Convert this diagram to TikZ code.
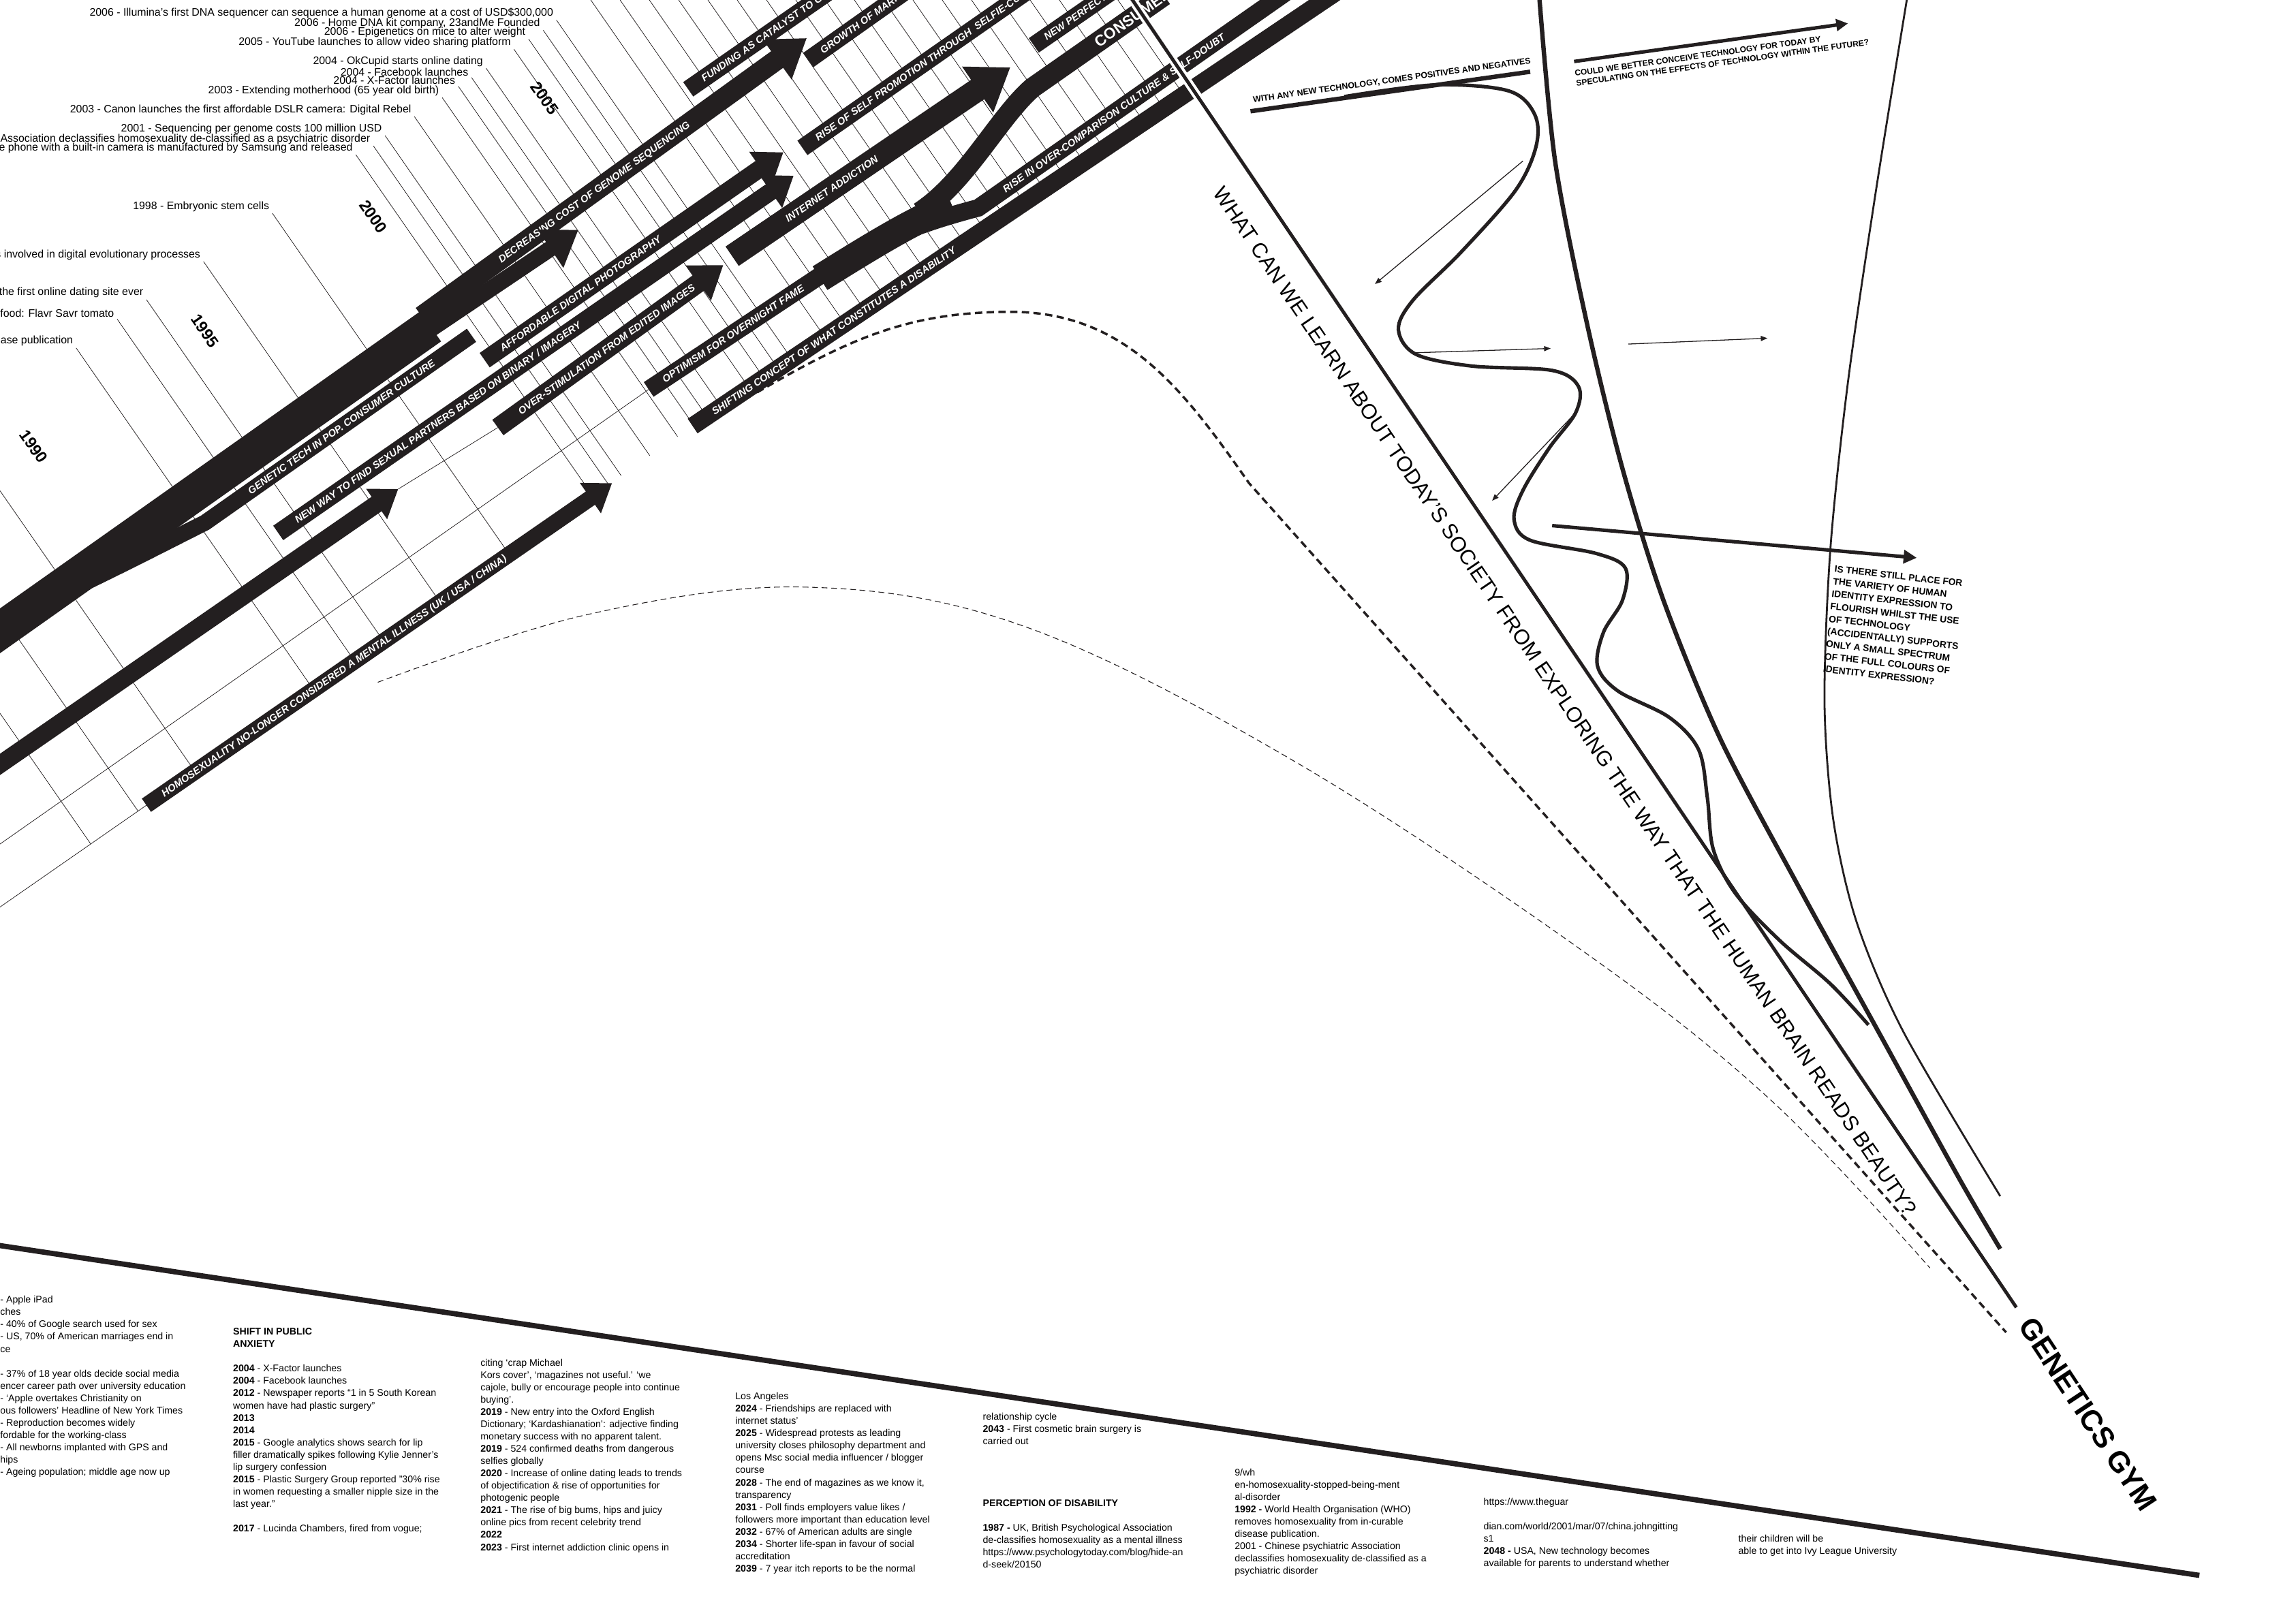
\documentclass[tikz,border=0pt]{standalone}
\usepackage{fontspec}
\setmainfont{Liberation Sans}
\usetikzlibrary{arrows.meta, calc}
\definecolor{ink}{HTML}{231F20}
\newcommand\bandfont{\fontsize{6.9}{7.5}\selectfont\bfseries\itshape}

\begin{document}
\begin{tikzpicture}[x=1pt, y=-1pt, line cap=butt, line join=miter]

	% ================= 0. styles =================
	\tikzset{
		band/.style={draw=ink, line width=#1},
		head/.style n args={2}{-{Triangle[width=#1, length=#2]}},
		lbl/.style={sloped, anchor=west, text=white, inner sep=0pt, font=\bandfont, text height=4.9pt, text depth=0pt},
		lead/.style={draw=ink, line width=0.35pt},
		tl/.style={anchor=east, inner sep=0pt, font=\fontsize{7.4}{8}\selectfont},
		yr/.style={rotate=-55, inner sep=0pt, font=\fontsize{11}{11}\selectfont\bfseries},
		note/.style={anchor=north west, inner sep=0pt, align=left, font=\fontsize{6.6}{8.4}\selectfont},
		query/.style={inner sep=0pt, align=left, font=\fontsize{5.8}{6.8}\selectfont\bfseries},
		thinarrow/.style={draw=ink, line width=0.6, -{Triangle[width=3.5, length=4.5]}},
	}
	\useasboundingbox (0,0) rectangle (1568,1109);

	% ================= 1. timeline labels and leader lines =================
	\coordinate (bd1) at (100,550);
	\coordinate (bd2) at (473,291);

	\node[tl] (e01) at (378,9)   {2006 - Illumina’s first DNA sequencer can sequence a human genome at a cost of USD\$300,000};
	\node[tl] (e02) at (369,16)  {2006 - Home DNA kit company, 23andMe Founded};
	\node[tl] (e03) at (359,22)  {2006 - Epigenetics on mice to alter weight};
	\node[tl] (e04) at (349,29)  {2005 - YouTube launches to allow video sharing platform};
	\node[tl] (e05) at (330,42)  {2004 - OkCupid starts online dating};
	\node[tl] (e06) at (320,49)  {2004 - Facebook launches};
	\node[tl] (e07) at (311,55)  {2004 - X-Factor launches};
	\node[tl] (e08) at (300,62)  {2003 - Extending motherhood (65 year old birth)};
	\node[tl] (e09) at (281,75)  {2003 - Canon launches the first affordable DSLR camera: Digital Rebel};
	\node[tl] (e10) at (261,88)  {2001 - Sequencing per genome costs 100 million USD};
	\node[tl] (e11) at (253,95)  {Association declassifies homosexuality de-classified as a psychiatric disorder};
	\node[tl] (e12) at (241,101) {le phone with a built-in camera is manufactured by Samsung and released};
	\node[tl] (e13) at (184,141) {1998 - Embryonic stem cells};
	\node[tl] (e14) at (137,174) {s involved in digital evolutionary processes};
	\node[tl] (e15) at (98,200)  {the first online dating site ever};
	\node[tl] (e16) at (78,214)  {food: Flavr Savr tomato};
	\node[tl] (e17) at (50,233)  {ase publication};

	\foreach \e in {e01,e02,e03,e04,e05,e06,e07,e08,e09,e10,e11,e12,e13,e14,e15,e16,e17}
		\draw[lead] ($(\e.south east)+(2,1)$) -- ($(bd1)!($(\e.south east)+(2,1)$)!(bd2)$);
	\foreach \x in {400,420,...,760}
		\draw[lead] (\x,-5) -- ($(bd1)!(\x,-5)!(bd2)$);
	\foreach \y in {328,411,480}
		\draw[lead] (-5,\y) -- ($(bd1)!(-5,\y)!(bd2)$);

	\node[yr] (y2005) at (372,67)  {2005};
	\node[yr] (y2000) at (255,148) {2000};
	\node[yr] (y1995) at (140,226) {1995};
	\node[yr] (y1990) at (23,305)  {1990};

	% thin guide lines along the bands
	\draw[lead] (-5,580) -- (443,266);
	\draw[lead] (100,550) -- (-5,623);
	\draw[lead] (272,334) -- (340,292);

	% ================= 2. bands =================
	\draw[band=25] (-20,445) -- (294,223);
	\draw[band=11] (60,397) .. controls (95,380) and (118,368) .. (140,357)
		-- node[lbl, pos=0.14] {GENETIC TECH IN POP. CONSUMER CULTURE} (322,229);
	\draw[band=14, head={32}{25}] (288,216) -- node[lbl, pos=0.18] {DECREASING COST OF GENOME SEQUENCING} (551,26);
	\draw[band=11, head={30}{23}] (285,231) -- (395,157);
	\draw[band=12, head={24}{18}] (-10,529) -- (272,334);
	\draw[band=11, head={24}{18}] (100,550) -- node[lbl, pos=0.02] {HOMOSEXUALITY NO-LONGER CONSIDERED A MENTAL ILLNESS (UK / USA / CHINA)} (418,330);
	\draw[band=12, head={26}{19}] (190,364) -- node[lbl, pos=0.02] {NEW WAY TO FIND SEXUAL PARTNERS BASED ON BINARY / IMAGERY} (542,120);
	\draw[band=12, head={26}{19}] (331,246) -- node[lbl, pos=0.03] {AFFORDABLE DIGITAL PHOTOGRAPHY} (535,104);
	\draw[band=13, head={28}{21}] (340,292) -- node[lbl, pos=0.06] {OVER-STIMULATION FROM EDITED IMAGES} (494,181);
	\draw[band=16, head={36}{27}] (500,175) -- node[lbl, pos=0.16] {INTERNET ADDICTION} (690,46);
	\draw[band=12] (443,266) -- node[lbl, pos=0.04] {OPTIMISM FOR OVERNIGHT FAME} (565,185)
		.. controls (600,163) and (630,152) .. (668,142)
		-- node[lbl, pos=0.06] {RISE IN OVER-COMPARISON CULTURE \& SELF-DOUBT} (878,-5);
	\draw[band=19] (560,190) .. controls (600,165) and (625,150) .. (650,140);
	\draw[band=14] (628,145) .. controls (660,124) and (682,80) .. (705,60)
		-- node[lbl, pos=0.42, font=\fontsize{10.5}{10.5}\selectfont\bfseries, text height=7.5pt] {CONSUMER} (795,-3);
	\draw[band=12] (473,291) -- node[lbl, pos=0.02] {SHIFTING CONCEPT OF WHAT CONSTITUTES A DISABILITY} (915,-7);
	\draw[band=12] (470,61) -- node[lbl, pos=0.05] {FUNDING AS CATALYST TO GE} (565,-5);
	\draw[band=12] (552,41) -- node[lbl, pos=0.06] {GROWTH OF MARK} (617,-5);
	\draw[band=12] (548,101) -- node[lbl, pos=0.03] {RISE OF SELF PROMOTION THROUGH\ \ SELFIE-CU} (700,-5);
	\draw[band=12] (706,31) -- node[lbl, pos=0.05] {NEW PERFECT BO} (758,-5);

	% ================= 3. the question line =================
	\draw[white, line width=6] (770,-5) -- (860,128);
	\draw[ink, line width=2.3] (770,-5) -- (1377,893);
	\node[rotate=-55.9, inner sep=0pt, font=\fontsize{14.4}{14.4}\selectfont] (learn) at (1069,479)
		{WHAT CAN WE LEARN ABOUT TODAY’S SOCIETY FROM EXPLORING THE WAY THAT THE HUMAN BRAIN READS BEAUTY?};
	\node[rotate=-56.5, inner sep=0pt, font=\fontsize{20}{20}\selectfont\bfseries] (gym) at (1426,966) {GENETICS GYM};

	% dashed traces
	\draw[ink, line width=1.6, dash pattern=on 5pt off 3pt] (517,268) to[out=30, in=180] (690,213)
		to[out=0, in=125] (853,330) -- (1370,910);
	\draw[ink, line width=0.5, dash pattern=on 4pt off 2.5pt] plot[smooth, tension=0.6] coordinates
		{(258,466) (400,420) (550,401) (700,428) (884,520) (1083,651) (1210,752) (1318,866)};

	% ================= 4. funnel and wave =================
	\draw[ink, line width=3] plot[smooth] coordinates
		{(1051,-5) (1062,110) (1084,222) (1108,320) (1136,410) (1175,505) (1228,605) (1283,705) (1338,805) (1366,853)};
	\draw[ink, line width=1.3] plot[smooth] coordinates
		{(1303,-5) (1281,131) (1262,261) (1250,375) (1246,480) (1252,560) (1268,630) (1300,705) (1366,817)};
	\draw[ink, line width=2.4] plot[smooth, tension=0.55] coordinates
		{(918,66) (980,58) (1030,62) (1048,78) (1049,100) (1035,130) (998,172) (965,205) (955,225) (967,242)
		 (1005,250) (1060,253) (1078,264) (1076,282) (1058,306) (1040,335) (1034,355) (1045,369) (1090,378)
		 (1110,388) (1108,410) (1095,432) (1091,455) (1105,472) (1140,490) (1160,512) (1166,545) (1170,580)
		 (1185,610) (1215,642) (1250,672) (1276,700)};

	\draw[thinarrow] (1040,110) -- (939,194);
	\draw[thinarrow] (964,241) -- (1059,238);
	\draw[thinarrow] (1112,235) -- (1207,231);
	\draw[thinarrow] (1075,283) -- (1019,342);
	\draw[ink, line width=2.4, -{Triangle[width=9, length=9]}] (1060,359) -- (1309,381);
	\draw[ink, line width=2.4, -{Triangle[width=8, length=8]}] (1075,42) -- (1262,16);

	\draw[ink, line width=3] (854,76) -- (1045,49);
	\node[query, rotate=8, anchor=south west] (withany) at (856,71) {WITH ANY NEW TECHNOLOGY, COMES POSITIVES AND NEGATIVES};
	\node[query, rotate=8, anchor=north west, font=\fontsize{5.6}{6.8}\selectfont\bfseries] (could) at (1075,48)
		{COULD WE BETTER CONCEIVE TECHNOLOGY FOR TODAY BY\\SPECULATING ON THE EFFECTS OF TECHNOLOGY WITHIN THE FUTURE?};
	\node[query, rotate=-6.5, anchor=north west, font=\fontsize{6.4}{8.6}\selectfont\bfseries] (variety) at (1253,386)
		{IS THERE STILL PLACE FOR\\THE VARIETY OF HUMAN\\IDENTITY EXPRESSION TO\\FLOURISH WHILST THE USE\\OF TECHNOLOGY\\(ACCIDENTALLY) SUPPORTS\\ONLY A SMALL SPECTRUM\\OF THE FULL COLOURS OF\\IDENTITY EXPRESSION?};

	% ================= 5. bottom edge and notes =================
	\draw[ink, line width=3.6] (-5,850) -- (1502,1076);

	\node[note] (col1) at (0,885) {- Apple iPad\\ches\\- 40\% of Google search used for sex\\- US, 70\% of American marriages end in\\ce\\\mbox{}\\- 37\% of 18 year olds decide social media\\encer career path over university education\\- ‘Apple overtakes Christianity on\\ous followers’ Headline of New York Times\\- Reproduction becomes widely\\fordable for the working-class\\- All newborns implanted with GPS and\\hips\\- Ageing population; middle age now up};
	\node[note] (col2) at (159,907) {\textbf{SHIFT IN PUBLIC}\\\textbf{ANXIETY}\\\mbox{}\\\textbf{2004} - X-Factor launches\\\textbf{2004} - Facebook launches\\\textbf{2012} - Newspaper reports “1 in 5 South Korean\\women have had plastic surgery”\\\textbf{2013}\\\textbf{2014}\\\textbf{2015} - Google analytics shows search for lip\\filler dramatically spikes following Kylie Jenner’s\\lip surgery confession\\\textbf{2015} - Plastic Surgery Group reported "30\% rise\\in women requesting a smaller nipple size in the\\last year."\\\mbox{}\\\textbf{2017} - Lucinda Chambers, fired from vogue;};
	\node[note] (col3) at (328,928) {citing ‘crap Michael\\Kors cover’, ‘magazines not useful.’ ‘we\\cajole, bully or encourage people into continue\\buying’.\\\textbf{2019} - New entry into the Oxford English\\Dictionary; ‘Kardashianation’: adjective finding\\monetary success with no apparent talent.\\\textbf{2019} - 524 confirmed deaths from dangerous\\selfies globally\\\textbf{2020} - Increase of online dating leads to trends\\of objectification \& rise of opportunities for\\photogenic people\\\textbf{2021} - The rise of big bums, hips and juicy\\online pics from recent celebrity trend\\\textbf{2022}\\\textbf{2023} - First internet addiction clinic opens in};
	\node[note] (col4) at (502,951) {Los Angeles\\\textbf{2024} - Friendships are replaced with\\internet status’\\\textbf{2025} - Widespread protests as leading\\university closes philosophy department and\\opens Msc social media influencer / blogger\\course\\\textbf{2028} - The end of magazines as we know it,\\transparency\\\textbf{2031} - Poll finds employers value likes /\\followers more important than education level\\\textbf{2032} - 67\% of American adults are single\\\textbf{2034} - Shorter life-span in favour of social\\accreditation\\\textbf{2039} - 7 year itch reports to be the normal};
	\node[note] (col5) at (671,965) {relationship cycle\\\textbf{2043} - First cosmetic brain surgery is\\carried out\\\mbox{}\\\mbox{}\\\mbox{}\\\mbox{}\\\textbf{PERCEPTION OF DISABILITY}\\\mbox{}\\\textbf{1987 -} UK, British Psychological Association\\de-classifies homosexuality as a mental illness\\https://www.psychologytoday.com/blog/hide-an\\d-seek/20150};
	\node[note] (col6) at (843,1003) {9/wh\\en-homosexuality-stopped-being-ment\\al-disorder\\\textbf{1992 -} World Health Organisation (WHO)\\removes homosexuality from in-curable\\disease publication.\\2001 - Chinese psychiatric Association\\declassifies homosexuality de-classified as a\\psychiatric disorder};
	\node[note] (col7) at (1013,1023) {https://www.theguar\\\mbox{}\\dian.com/world/2001/mar/07/china.johngitting\\s1\\\textbf{2048 -} USA, New technology becomes\\available for parents to understand whether};
	\node[note] (col8) at (1187,1048) {their children will be\\able to get into Ivy League University};

\end{tikzpicture}
\end{document}
